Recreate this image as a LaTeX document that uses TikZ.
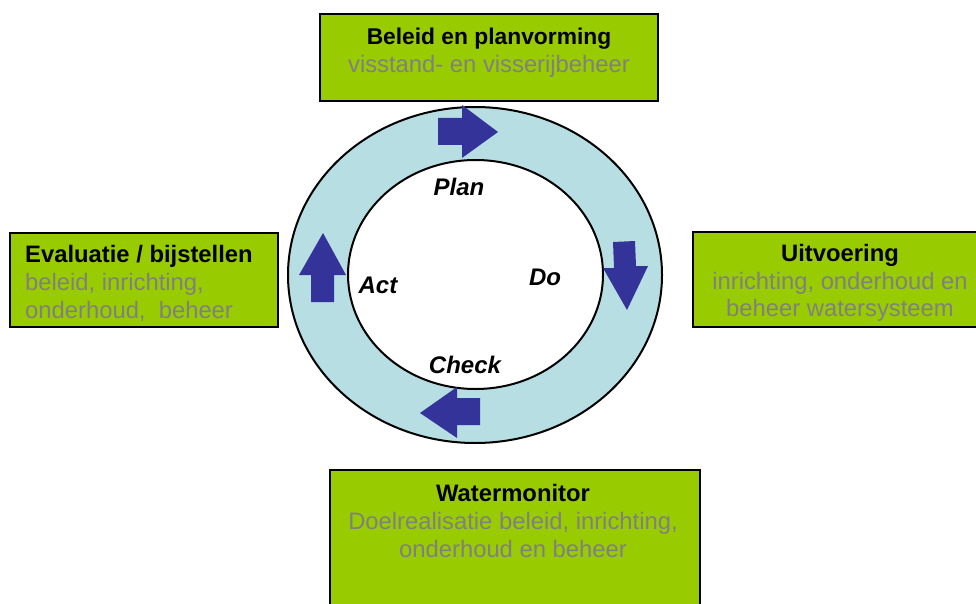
\documentclass[tikz,border=0pt]{standalone}
\usepackage{fontspec}
\setmainfont{Liberation Sans}
\definecolor{boxgreen}{HTML}{99CC00}
\definecolor{ringblue}{HTML}{B7DFE3}
\definecolor{arrowblue}{HTML}{333399}
\definecolor{subgray}{HTML}{808080}
\newcommand{\titlefont}{\fontsize{23.8}{27.8}\selectfont\bfseries}
\newcommand{\toptitlefont}{\fontsize{22.8}{27.8}\selectfont\bfseries}
\newcommand{\subfont}{\fontsize{23.8}{27.8}\selectfont\color{subgray}}
\begin{document}
\begin{tikzpicture}[x=1pt,y=-1pt,
  greenbox/.style={draw=black, line width=2pt, fill=boxgreen, rectangle, inner sep=0pt},
  boxtext/.style={inner sep=0pt, font=\fontsize{23.5}{27.8}\selectfont},
  pdcalabel/.style={inner sep=0pt, font=\fontsize{24}{27}\selectfont\bfseries\itshape},
  cyclearrow/.style={fill=arrowblue, draw=none}]
\useasboundingbox (0,0) rectangle (976,604);
% ring
\fill[ringblue, draw=black, line width=2pt] (475,275) ellipse [x radius=187, y radius=168];
\fill[white, draw=black, line width=2pt] (475.5,274.5) ellipse [x radius=127.5, y radius=114.5];
% arrows
\fill[cyclearrow] (438,118) -- (462,118) -- (462,105) -- (498,132) -- (462,158) -- (462,145) -- (438,145) -- cycle;
\fill[cyclearrow] (613,242) -- (635,241) -- (636,266) -- (648,266) -- (627,310) -- (603,268) -- (614,268) -- cycle;
\fill[cyclearrow] (480,398) -- (457,398) -- (457,387) -- (420,413) -- (457,438) -- (457,425) -- (480,425) -- cycle;
\fill[cyclearrow] (311,302) -- (334,302) -- (334,275) -- (346,275) -- (323,233) -- (299,275) -- (311,275) -- cycle;
% labels
\node[pdcalabel] (plan) at (459,187) {Plan};
\node[pdcalabel] (do) at (545,277) {Do};
\node[pdcalabel] (act) at (378,285) {Act};
\node[pdcalabel] (check) at (465,365) {Check};
% boxes
\node[greenbox, minimum width=338pt, minimum height=87pt] (topbox) at (489,57.5) {};
\node[greenbox, minimum width=268pt, minimum height=94pt] (leftbox) at (144,280) {};
\node[greenbox, minimum width=294pt, minimum height=95pt] (rightbox) at (840,279.5) {};
\node[greenbox, minimum width=370pt, minimum height=150pt] (bottombox) at (514.5,545) {};
% box texts
\node[boxtext, align=center] (toptext) at (489,52.5) {{\toptitlefont Beleid en planvorming}\\{\subfont visstand- en visserijbeheer}};
\node[boxtext, align=left, anchor=west] (lefttext) at (25,283.5) {{\titlefont Evaluatie / bijstellen}\\{\subfont beleid, inrichting,}\\{\subfont onderhoud,\ \ beheer}};
\node[boxtext, align=center] (righttext) at (840,283) {{\titlefont Uitvoering}\\{\subfont inrichting, onderhoud en}\\{\subfont beheer watersysteem}};
\node[boxtext, align=center] (bottomtext) at (513,521) {{\titlefont Watermonitor}\\{\subfont Doelrealisatie beleid, inrichting,}\\{\subfont onderhoud en beheer}};
\end{tikzpicture}
\end{document}
